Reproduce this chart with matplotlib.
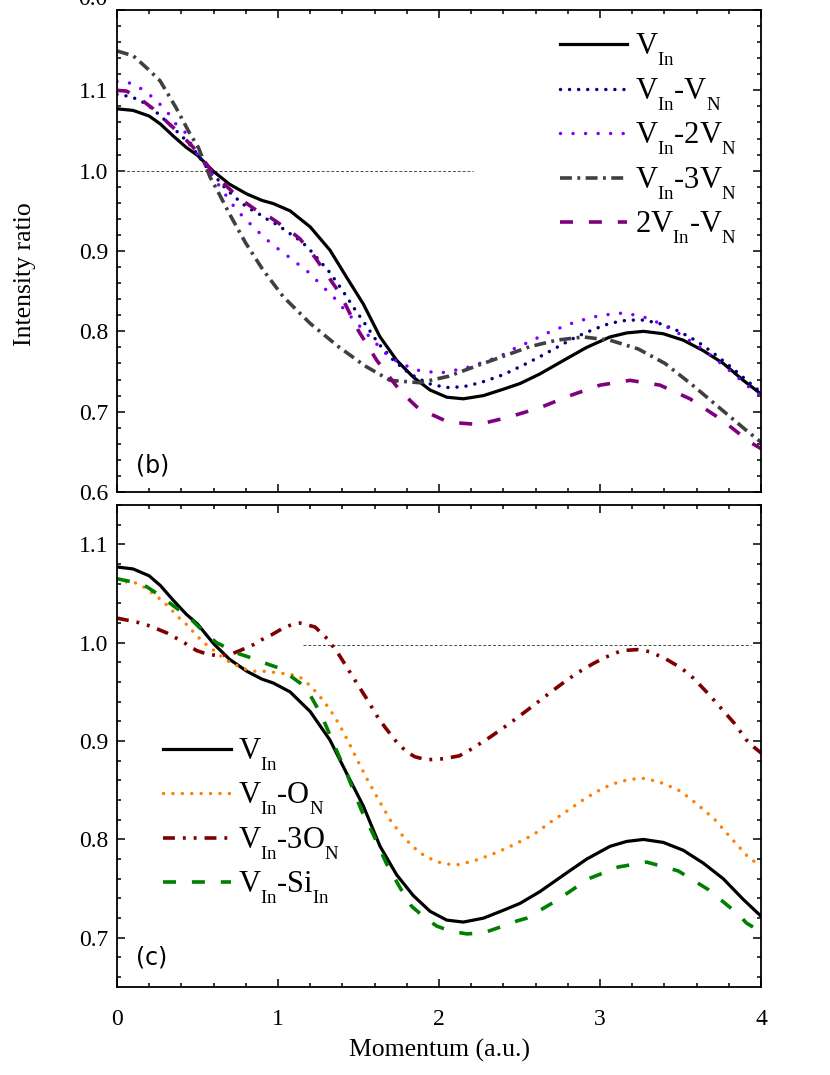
import matplotlib
matplotlib.use("Agg")
import matplotlib.pyplot as plt
from matplotlib.ticker import MultipleLocator, FuncFormatter

try:
    import matplotlib._mathtext as _mt
    _mt.FontConstantsBase.sub1 = 0.75
    _mt.FontConstantsBase.sub2 = 0.9
    _mt.SHRINK_FACTOR = 0.62
except Exception:
    pass

plt.rcParams['font.serif'] = ['Liberation Serif', 'DejaVu Serif']
plt.rcParams['font.family'] = 'serif'
plt.rcParams['mathtext.fontset'] = 'custom'
plt.rcParams['mathtext.rm'] = 'Liberation Serif'
plt.rcParams['mathtext.it'] = 'Liberation Serif:italic'
plt.rcParams['mathtext.bf'] = 'Liberation Serif:bold'
plt.rcParams['axes.formatter.use_mathtext'] = False

# ---------------- data ----------------
x_vin = [0, 0.1, 0.2, 0.27, 0.35, 0.43, 0.5, 0.6, 0.7, 0.806, 0.9, 0.971, 1.075, 1.2,
         1.323, 1.427, 1.53, 1.634, 1.737, 1.84, 1.944, 2.048, 2.151, 2.276, 2.4, 2.503,
         2.627, 2.793, 2.917, 3.062, 3.166, 3.27, 3.393, 3.517, 3.641, 3.766, 3.89, 4.0]
y_vin = [1.077, 1.075, 1.068, 1.058, 1.043, 1.029, 1.019, 0.999, 0.983, 0.971, 0.963, 0.959,
         0.950, 0.930, 0.901, 0.867, 0.834, 0.793, 0.764, 0.743, 0.727, 0.718, 0.716, 0.720,
         0.728, 0.735, 0.747, 0.766, 0.780, 0.793, 0.798, 0.800, 0.797, 0.789, 0.776, 0.760,
         0.739, 0.722]

x_vn1 = [0, 0.06, 0.112, 0.163, 0.215, 0.271, 0.319, 0.366, 0.412, 0.464, 0.511, 0.557, 0.598,
         0.65, 0.70, 0.756, 0.81, 0.868, 0.919, 0.975, 1.029, 1.079, 1.13, 1.182, 1.236, 1.323,
         1.40, 1.472, 1.545, 1.623, 1.717, 1.82, 1.934, 2.043, 2.151, 2.255, 2.358, 2.41, 2.524,
         2.632, 2.741, 2.851, 2.955, 3.062, 3.17, 3.276, 3.383, 3.491, 3.60, 3.704, 3.811,
         3.917, 4.0]
y_vn1 = [1.095, 1.093, 1.090, 1.085, 1.078, 1.068, 1.059, 1.050, 1.041, 1.030, 1.017, 1.004,
         0.996, 0.983, 0.973, 0.963, 0.954, 0.948, 0.941, 0.935, 0.928, 0.921, 0.914, 0.905,
         0.893, 0.873, 0.851, 0.829, 0.808, 0.785, 0.764, 0.747, 0.735, 0.730, 0.731, 0.736,
         0.743, 0.747, 0.758, 0.769, 0.781, 0.793, 0.802, 0.810, 0.814, 0.814, 0.809, 0.800,
         0.788, 0.773, 0.756, 0.738, 0.724]

x_vn2 = [0, 0.081, 0.16, 0.236, 0.309, 0.366, 0.427, 0.47, 0.53, 0.58, 0.636, 0.688, 0.743,
         0.816, 0.888, 0.965, 1.039, 1.116, 1.193, 1.271, 1.344, 1.412, 1.551, 1.696, 1.851,
         2.006, 2.161, 2.311, 2.389, 2.462, 2.54, 2.696, 2.851, 3.004, 3.155, 3.306, 3.461,
         3.615, 3.77, 3.923, 4.0]
y_vn2 = [1.111, 1.109, 1.101, 1.089, 1.074, 1.058, 1.047, 1.029, 1.012, 0.998, 0.981, 0.966,
         0.951, 0.936, 0.922, 0.908, 0.897, 0.885, 0.873, 0.857, 0.843, 0.827, 0.797, 0.767,
         0.752, 0.748, 0.754, 0.764, 0.770, 0.778, 0.785, 0.800, 0.812, 0.820, 0.823, 0.816,
         0.801, 0.781, 0.757, 0.731, 0.720]

x_vn3 = [0, 0.101, 0.195, 0.267, 0.365, 0.453, 0.505, 0.578, 0.619, 0.702, 0.799, 0.905, 1.033,
         1.199, 1.375, 1.54, 1.696, 1.882, 2.058, 2.234, 2.40, 2.565, 2.731, 2.896, 3.062,
         3.238, 3.404, 3.569, 3.735, 3.907, 4.0]
y_vn3 = [1.149, 1.143, 1.126, 1.112, 1.079, 1.046, 1.029, 0.992, 0.977, 0.945, 0.910, 0.877,
         0.843, 0.810, 0.781, 0.757, 0.739, 0.736, 0.744, 0.757, 0.769, 0.781, 0.789, 0.793,
         0.789, 0.778, 0.760, 0.734, 0.706, 0.677, 0.662]

x_2vin = [0, 0.06, 0.153, 0.225, 0.309, 0.391, 0.474, 0.557, 0.598, 0.70, 0.764, 0.878, 0.95,
          1.075, 1.137, 1.23, 1.385, 1.499, 1.613, 1.758, 1.872, 2.058, 2.244, 2.43, 2.627,
          2.814, 3.0, 3.186, 3.373, 3.559, 3.755, 3.932, 4.0]
y_2vin = [1.100, 1.099, 1.088, 1.077, 1.061, 1.046, 1.029, 1.008, 0.996, 0.977, 0.965, 0.949,
          0.942, 0.925, 0.915, 0.892, 0.847, 0.801, 0.764, 0.726, 0.704, 0.687, 0.684, 0.693,
          0.705, 0.720, 0.733, 0.739, 0.733, 0.716, 0.690, 0.662, 0.654]

x_on1 = [0, 0.05, 0.112, 0.163, 0.215, 0.271, 0.325, 0.374, 0.429, 0.48, 0.532, 0.588, 0.64,
         0.692, 0.743, 0.801, 0.857, 0.909, 0.967, 1.019, 1.075, 1.137, 1.182, 1.23, 1.277,
         1.323, 1.369, 1.41, 1.447, 1.489, 1.526, 1.561, 1.592, 1.629, 1.665, 1.70, 1.747,
         1.789, 1.836, 1.886, 1.94, 1.996, 2.052, 2.106, 2.161, 2.213, 2.265, 2.317, 2.375,
         2.43, 2.482, 2.588, 2.696, 2.805, 2.911, 3.017, 3.124, 3.232, 3.286, 3.393, 3.501,
         3.61, 3.714, 3.811, 3.91, 4.0]
y_on1 = [1.064, 1.062, 1.061, 1.057, 1.051, 1.044, 1.036, 1.027, 1.019, 1.010, 1.001, 0.994,
         0.987, 0.981, 0.977, 0.973, 0.971, 0.971, 0.970, 0.969, 0.968, 0.965, 0.959, 0.951,
         0.942, 0.932, 0.920, 0.908, 0.896, 0.882, 0.870, 0.859, 0.850, 0.839, 0.829, 0.819,
         0.809, 0.801, 0.793, 0.786, 0.781, 0.777, 0.775, 0.774, 0.776, 0.778, 0.781, 0.784,
         0.788, 0.792, 0.796, 0.805, 0.818, 0.830, 0.842, 0.852, 0.859, 0.862, 0.862, 0.857,
         0.849, 0.835, 0.820, 0.802, 0.784, 0.772]

x_on3 = [0, 0.122, 0.205, 0.309, 0.408, 0.495, 0.567, 0.63, 0.702, 0.764, 0.847, 0.898, 0.96,
         1.033, 1.095, 1.137, 1.23, 1.306, 1.374, 1.447, 1.489, 1.551, 1.613, 1.665, 1.737,
         1.799, 1.851, 1.923, 2.027, 2.126, 2.203, 2.317, 2.404, 2.48, 2.577, 2.68, 2.753,
         2.856, 2.96, 3.031, 3.135, 3.232, 3.306, 3.404, 3.507, 3.58, 3.679, 3.77, 3.835,
         3.91, 3.94, 4.0]
y_on3 = [1.025, 1.021, 1.017, 1.010, 1.001, 0.992, 0.988, 0.987, 0.988, 0.992, 0.998, 1.003,
         1.008, 1.015, 1.019, 1.020, 1.016, 1.004, 0.989, 0.970, 0.959, 0.943, 0.926, 0.914,
         0.899, 0.889, 0.884, 0.881, 0.882, 0.885, 0.892, 0.904, 0.914, 0.923, 0.935, 0.948,
         0.957, 0.969, 0.979, 0.985, 0.992, 0.993, 0.991, 0.984, 0.974, 0.964, 0.947, 0.930,
         0.918, 0.901, 0.896, 0.888]

x_si = [0, 0.091, 0.184, 0.257, 0.371, 0.453, 0.557, 0.619, 0.753, 0.826, 0.94, 1.012, 1.137,
        1.199, 1.271, 1.354, 1.427, 1.52, 1.592, 1.675, 1.758, 1.83, 1.902, 1.985, 2.068,
        2.172, 2.275, 2.40, 2.482, 2.545, 2.731, 2.928, 3.114, 3.29, 3.486, 3.673, 3.859,
        3.91, 4.0]
y_si = [1.065, 1.062, 1.057, 1.049, 1.035, 1.025, 1.008, 1.000, 0.989, 0.985, 0.978, 0.974,
        0.959, 0.947, 0.926, 0.894, 0.867, 0.829, 0.805, 0.775, 0.751, 0.732, 0.722, 0.712,
        0.707, 0.704, 0.705, 0.712, 0.717, 0.720, 0.738, 0.760, 0.772, 0.777, 0.768, 0.749,
        0.724, 0.715, 0.706]

ref_b_x = [0.0, 2.21]
ref_b_y = [1.0, 1.0]
ref_c_x = [1.157, 3.94]
ref_c_y = [0.998, 0.998]

labels_b = [r'V$_{\mathrm{In}}$', r'V$_{\mathrm{In}}$-V$_{\mathrm{N}}$',
            r'V$_{\mathrm{In}}$-2V$_{\mathrm{N}}$', r'V$_{\mathrm{In}}$-3V$_{\mathrm{N}}$',
            r'2V$_{\mathrm{In}}$-V$_{\mathrm{N}}$']
labels_c = [r'V$_{\mathrm{In}}$', r'V$_{\mathrm{In}}$-O$_{\mathrm{N}}$',
            r'V$_{\mathrm{In}}$-3O$_{\mathrm{N}}$', r'V$_{\mathrm{In}}$-Si$_{\mathrm{In}}$']

# ---------------- figure ----------------
fig = plt.figure(figsize=(8.3, 10.75), dpi=100)
W, H = 830, 1075
L, R = 117, 761
axb = fig.add_axes([L / W, 1 - 492 / H, (R - L) / W, (492 - 10) / H])
axc = fig.add_axes([L / W, 1 - 987 / H, (R - L) / W, (987 - 505) / H])

lw_s = 2.3
lw_d = 2.6

def style_axis(ax, ylo, yhi):
    ax.set_xlim(0, 4)
    ax.set_ylim(ylo, yhi)
    ax.xaxis.set_major_locator(MultipleLocator(1))
    ax.xaxis.set_minor_locator(MultipleLocator(0.2))
    ax.yaxis.set_major_locator(MultipleLocator(0.1))
    ax.yaxis.set_minor_locator(MultipleLocator(0.02))
    ax.yaxis.set_major_formatter(FuncFormatter(
        lambda v, p: '' if v > 1.15 else '%.1f' % v))
    ax.tick_params(which='both', direction='in', top=True, right=True, width=1.1,
                   labelsize=17)
    ax.tick_params(which='major', length=6)
    ax.tick_params(which='minor', length=3.2)
    ax.tick_params(axis='y', pad=6)
    ax.tick_params(axis='x', pad=16)
    for s in ax.spines.values():
        s.set_linewidth(1.3)

leg_kw = dict(loc='upper left', frameon=False, fontsize=22, handlelength=2.2,
              handletextpad=0.25, labelspacing=0.27, borderaxespad=0, borderpad=0)

# panel (b)
axb.plot(ref_b_x, ref_b_y, color='0.3', lw=0.7, ls=(0, (3, 2)))
lb = []
lb += axb.plot(x_vin, y_vin, color='black', lw=lw_s, label=labels_b[0])
lb += axb.plot(x_vn1, y_vn1, color='#000080', lw=2.5, ls=(0, (0.01, 2.6)),
               dash_capstyle='round', label=labels_b[1])
lb += axb.plot(x_vn2, y_vn2, color='#8000FF', lw=2.5, ls=(0, (0.01, 3.6)),
               dash_capstyle='round', label=labels_b[2])
lb += axb.plot(x_vn3, y_vn3, color='#404040', lw=lw_d, ls=(0, (3.3, 1.5, 0.8, 1.5)),
               label=labels_b[3])
lb += axb.plot(x_2vin, y_2vin, color='#800080', lw=lw_d, ls=(0, (3.6, 4.4)),
               label=labels_b[4])
style_axis(axb, 0.6, 1.2)
axb.tick_params(axis='x', labelbottom=False)
axb.legend(handles=lb, bbox_to_anchor=(0.688, 0.954), **leg_kw)
axb.text(0.03, 0.054, '(b)', transform=axb.transAxes, fontsize=17,
         family='DejaVu Sans', va='center', ha='left')

# panel (c)
axc.plot(ref_c_x, ref_c_y, color='0.3', lw=0.7, ls=(0, (3, 2)))
lc = []
lc += axc.plot(x_vin, y_vin, color='black', lw=lw_s, label=labels_c[0])
lc += axc.plot(x_on1, y_on1, color='#FF8000', lw=2.5, ls=(0, (0.01, 2.7)),
               dash_capstyle='round', label=labels_c[1])
lc += axc.plot(x_on3, y_on3, color='#800000', lw=lw_d,
               ls=(0, (3.3, 2.2, 0.8, 2.2, 0.8, 2.2)), label=labels_c[2])
lc += axc.plot(x_si, y_si, color='#008000', lw=lw_d, ls=(0, (3.6, 4.4)),
               label=labels_c[3])
style_axis(axc, 0.65, 1.14)
axc.legend(handles=lc, bbox_to_anchor=(0.072, 0.52), **leg_kw)
axc.text(0.03, 0.062, '(c)', transform=axc.transAxes, fontsize=17,
         family='DejaVu Sans', va='center', ha='left')

for ax in (axb, axc):
    for lab in ax.get_xticklabels() + ax.get_yticklabels():
        lab.set_fontfamily('Liberation Serif')

# bottom edge of the cropped-off panel above (its "0.0" tick label)
fig.text(107 / W, 1 - 5 / H, '0.0', fontsize=17, ha='right', va='baseline')

fig.text(25 / W, 1 - 274 / H, 'Intensity ratio', rotation=90, fontsize=18.5,
         ha='center', va='center')
fig.text(439 / W, 1 - 1050 / H, 'Momentum (a.u.)', fontsize=18.5,
         ha='center', va='center')

fig.savefig('out.png', dpi=100)
